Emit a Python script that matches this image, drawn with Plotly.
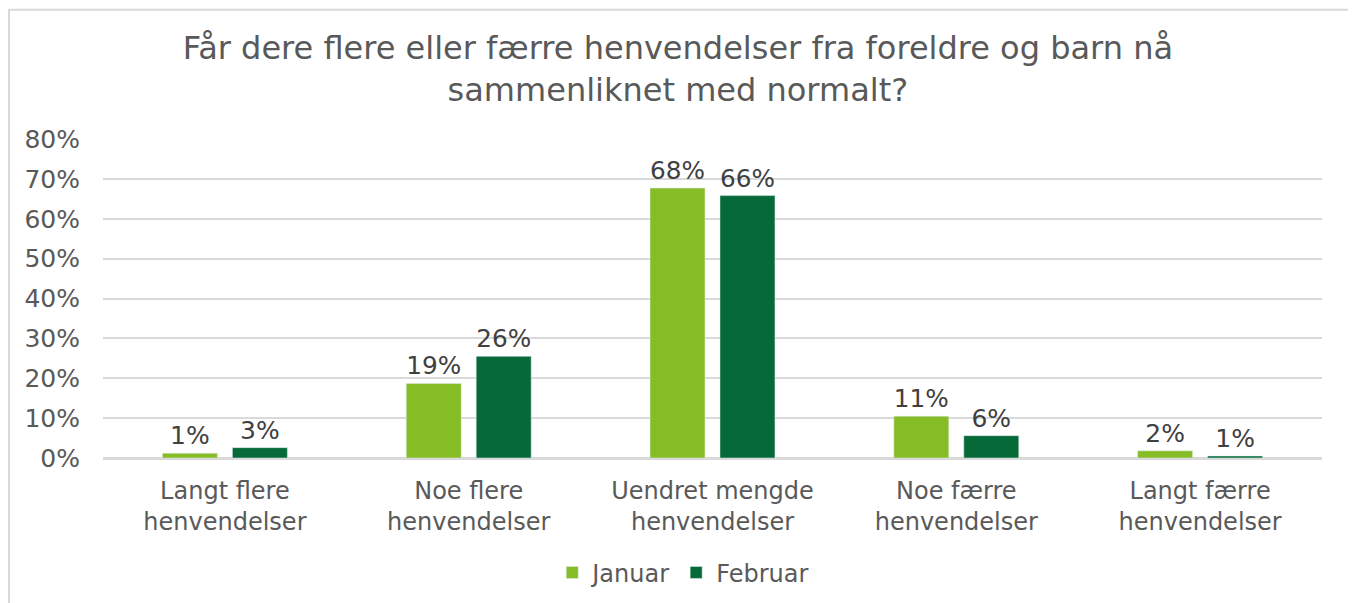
import plotly.graph_objects as go

categories = ["Langt flere<br>henvendelser", "Noe flere<br>henvendelser", "Uendret mengde<br>henvendelser",
              "Noe færre<br>henvendelser", "Langt færre<br>henvendelser"]
januar = [1.2, 18.7, 67.7, 10.5, 1.8]
februar = [2.6, 25.5, 65.8, 5.6, 0.5]
januar_labels = ["1%", "19%", "68%", "11%", "2%"]
februar_labels = ["3%", "26%", "66%", "6%", "1%"]
tick_vals = [0, 10, 20, 30, 40, 50, 60, 70, 80]
tick_text = ["0%", "10%", "20%", "30%", "40%", "50%", "60%", "70%", "80%"]

FONT = "DejaVu Sans"
GRAY = "#595959"

fig = go.Figure()
fig.add_trace(go.Bar(name="Januar", x=categories, y=januar, marker_color="#86BC25",
                     text=januar_labels, textposition="outside", cliponaxis=False,
                     textfont=dict(family=FONT, size=25, color="#404040")))
fig.add_trace(go.Bar(name="Februar", x=categories, y=februar, marker_color="#066A38",
                     text=februar_labels, textposition="outside", cliponaxis=False,
                     textfont=dict(family=FONT, size=25, color="#404040")))

fig.update_layout(
    width=1356, height=603,
    barmode="group", bargap=0.426, bargroupgap=0.214,
    plot_bgcolor="white", paper_bgcolor="white",
    margin=dict(l=95, r=42, t=131, b=153),
    title=dict(text="Får dere flere eller færre henvendelser fra foreldre og barn nå<br>sammenliknet med normalt?",
               x=0.494, xanchor="center", y=0.915, yanchor="top",
               font=dict(family=FONT, size=32, color=GRAY)),
    font=dict(family=FONT, color=GRAY),
    legend=dict(orientation="h", x=0.476, xanchor="center", y=-0.36, yanchor="middle",
                font=dict(family=FONT, size=24, color=GRAY), itemwidth=30,
                traceorder="normal"),
    shapes=[dict(type="rect", xref="paper", yref="paper", x0=-0.0771, x1=1.023, y0=-0.6, y1=1.405,
                 line=dict(color="#D9D9D9", width=2), fillcolor="rgba(0,0,0,0)", layer="above")],
)
fig.update_yaxes(range=[0, 80], tickvals=tick_vals, ticktext=tick_text, showgrid=True,
                 gridcolor="#D9D9D9", gridwidth=1.5, zeroline=True, zerolinecolor="#D9D9D9",
                 zerolinewidth=1.5, tickfont=dict(family=FONT, size=25, color=GRAY), ticks="",
                 ticklabelstandoff=22, showline=False)
fig.update_xaxes(tickfont=dict(family=FONT, size=24, color=GRAY), showline=True, linecolor="#D9D9D9",
                 linewidth=1.5, ticks="", ticklabelstandoff=10)

fig.write_html("out.html")
